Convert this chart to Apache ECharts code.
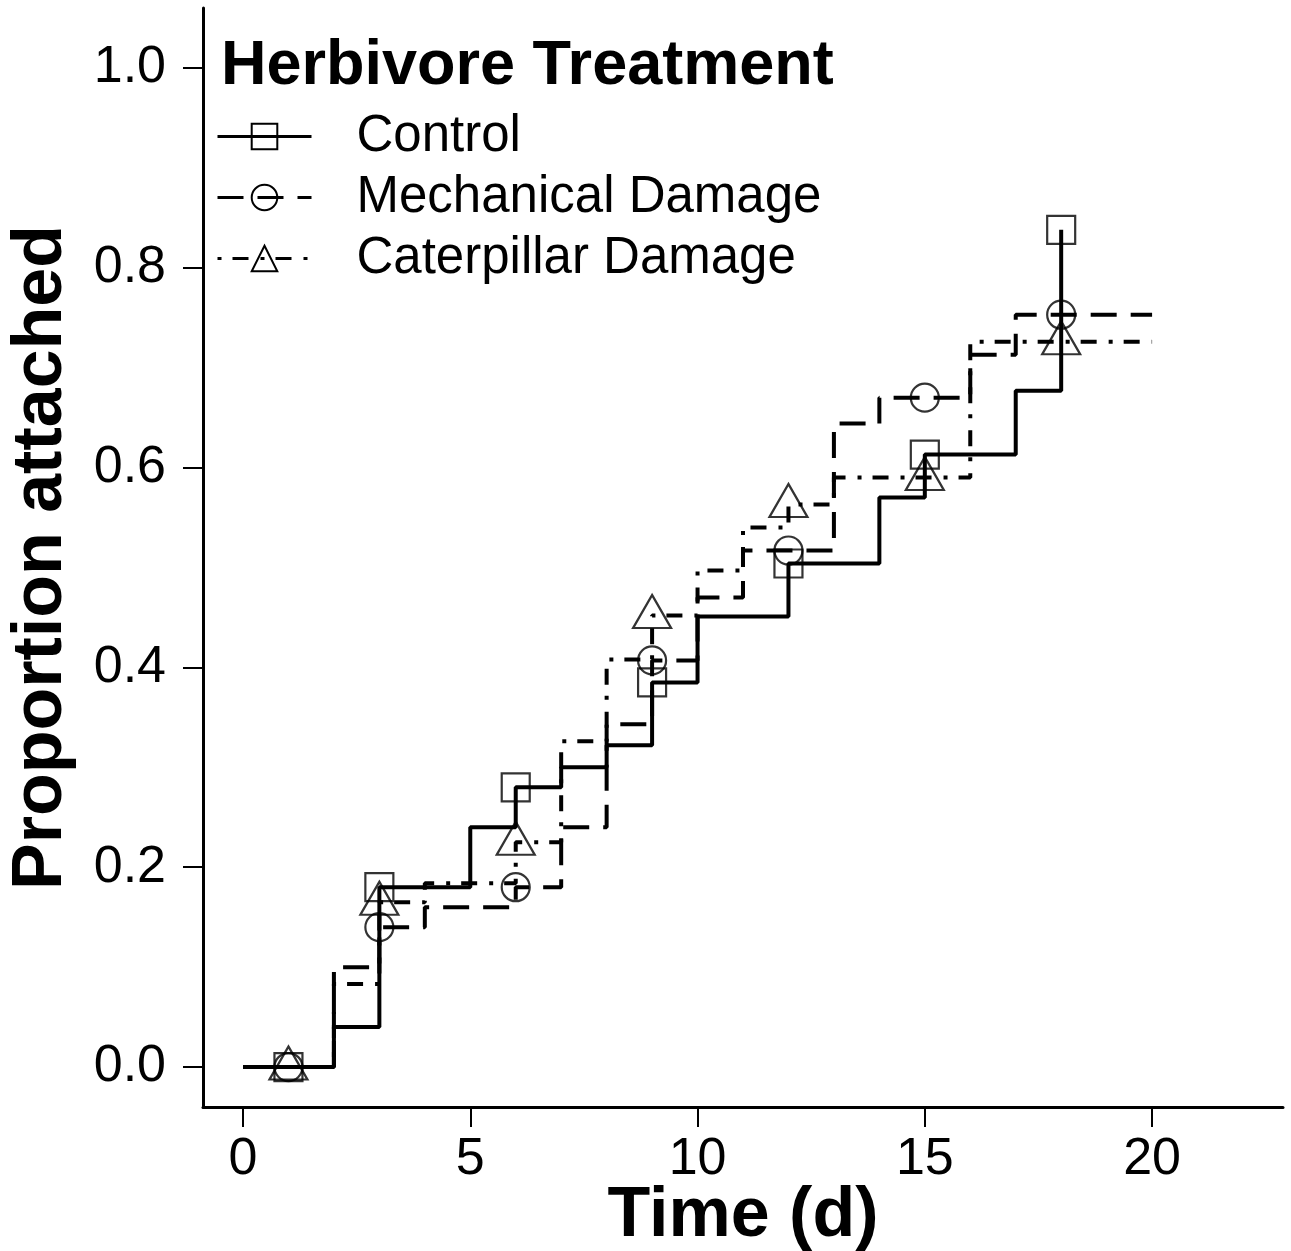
<!DOCTYPE html>
<html>
<head>
<meta charset="utf-8">
<script src="https://cdn.jsdelivr.net/npm/echarts@6/dist/echarts.min.js"></script>
<style>
  html, body { margin: 0; padding: 0; background: #fff; }
  #chart { width: 1291px; height: 1251px; }
</style>
</head>
<body>
<div id="chart"></div>
<script>
// step curves: time of each jump and value from that time on
const controlTimes = [0, 2, 3, 5, 6, 7, 8, 9, 10, 12, 14, 15, 17, 18];
const controlValues = [0, 0.04, 0.18, 0.24, 0.28, 0.30, 0.322, 0.385, 0.451, 0.504, 0.570, 0.613, 0.677, 0.838];

const mechTimes = [0, 2, 3, 4, 6, 7, 8, 9, 10, 11, 13, 14, 16, 17, 20];
const mechValues = [0, 0.10, 0.14, 0.16, 0.18, 0.24, 0.343, 0.407, 0.47, 0.517, 0.644, 0.67, 0.713, 0.753, 0.753];

const caterTimes = [0, 2, 3, 4, 6, 7, 8, 9, 10, 11, 12, 13, 16, 20];
const caterValues = [0, 0.083, 0.165, 0.184, 0.225, 0.326, 0.408, 0.452, 0.497, 0.54, 0.563, 0.59, 0.726, 0.726];

// marker points
const markTimes = [1, 3, 6, 9, 12, 15, 18];
const controlMarks = [0, 0.18, 0.28, 0.385, 0.504, 0.613, 0.838];
const mechMarks = [0, 0.14, 0.18, 0.407, 0.517, 0.67, 0.753];
const caterMarks = [0, 0.165, 0.225, 0.452, 0.563, 0.59, 0.726];

const xTicks = [0, 5, 10, 15, 20];
const yTicks = [0, 0.2, 0.4, 0.6, 0.8, 1.0];

const FONT = '"Liberation Sans", Arial, Helvetica, sans-serif';

function zip(a, b) {
    return a.map((v, i) => [v, b[i]]);
}

function stepSeries(name, times, vals, symbol, dash) {
    return {
        name: name,
        type: 'line',
        step: 'end',
        data: zip(times, vals),
        symbol: symbol,
        showSymbol: false,
        silent: true,
        lineStyle: { color: '#000', width: 4, type: dash, cap: 'butt' },
        itemStyle: { color: 'transparent', borderColor: '#000', borderWidth: 2.4 },
        z: 2
    };
}

function markSeries(name, vals, symbol, size, offset) {
    return {
        name: name,
        type: 'scatter',
        data: zip(markTimes, vals),
        symbol: symbol,
        symbolSize: size,
        symbolOffset: offset,
        silent: true,
        itemStyle: { color: 'transparent', borderColor: '#000', borderWidth: 2.2 },
        z: 3
    };
}

let grafica = echarts.init(document.querySelector('#chart'));

let option = {
    animation: false,
    backgroundColor: '#fff',
    title: {
        text: 'Herbivore Treatment',
        left: 216,
        top: 30,
        textStyle: { fontFamily: FONT, fontWeight: 'bold', fontSize: 63, color: '#000' }
    },
    legend: {
        data: ['Control', 'Mechanical Damage', 'Caterpillar Damage'],
        orient: 'vertical',
        left: 216,
        top: 106,
        padding: 0,
        itemWidth: 94,
        itemHeight: 32,
        itemGap: 0,
        selectedMode: false,
        lineStyle: { width: 3 },
        textStyle: {
            fontFamily: FONT, fontSize: 51, color: '#000',
            lineHeight: 61, padding: [0, 0, 0, 40]
        }
    },
    grid: { left: 203, right: 8, top: 8, bottom: 144, containLabel: false, outerBoundsMode: 'none' },
    xAxis: {
        type: 'value',
        min: -0.88,
        max: 22.88,
        name: 'Time (d)',
        nameLocation: 'middle',
        nameGap: 75,
        nameMoveOverlap: false,
        nameTextStyle: { fontFamily: FONT, fontWeight: 'bold', fontSize: 70, color: '#000' },
        axisLine: { show: true, onZero: false, lineStyle: { color: '#000', width: 3 } },
        axisTick: { show: true, length: 20, lineStyle: { color: '#000', width: 2 }, customValues: xTicks },
        axisLabel: {
            fontFamily: FONT, fontSize: 52, color: '#000', margin: 27,
            customValues: xTicks, formatter: v => String(v)
        },
        splitLine: { show: false }
    },
    yAxis: {
        type: 'value',
        min: -0.04,
        max: 1.06,
        name: 'Proportion attached',
        nameLocation: 'middle',
        nameGap: 126,
        nameMoveOverlap: false,
        nameTextStyle: { fontFamily: FONT, fontWeight: 'bold', fontSize: 70, color: '#000' },
        axisLine: { show: true, onZero: false, lineStyle: { color: '#000', width: 3 } },
        axisTick: { show: true, length: 20, lineStyle: { color: '#000', width: 2 }, customValues: yTicks },
        axisLabel: {
            fontFamily: FONT, fontSize: 52, color: '#000', margin: 37,
            customValues: yTicks, formatter: v => v.toFixed(1)
        },
        splitLine: { show: false }
    },
    series: [
        stepSeries('Control', controlTimes, controlValues, 'rect', 'solid'),
        stepSeries('Mechanical Damage', mechTimes, mechValues, 'circle', [26, 14]),
        stepSeries('Caterpillar Damage', caterTimes, caterValues, 'triangle', [4, 11, 16, 12]),
        markSeries('Control marks', controlMarks, 'rect', 28, [0, 0]),
        markSeries('Mechanical marks', mechMarks, 'circle', 28, [0, 0]),
        markSeries('Caterpillar marks', caterMarks, 'triangle', [38, 33], [0, -4])
    ]
};

grafica.setOption(option);
</script>
</body>
</html>
